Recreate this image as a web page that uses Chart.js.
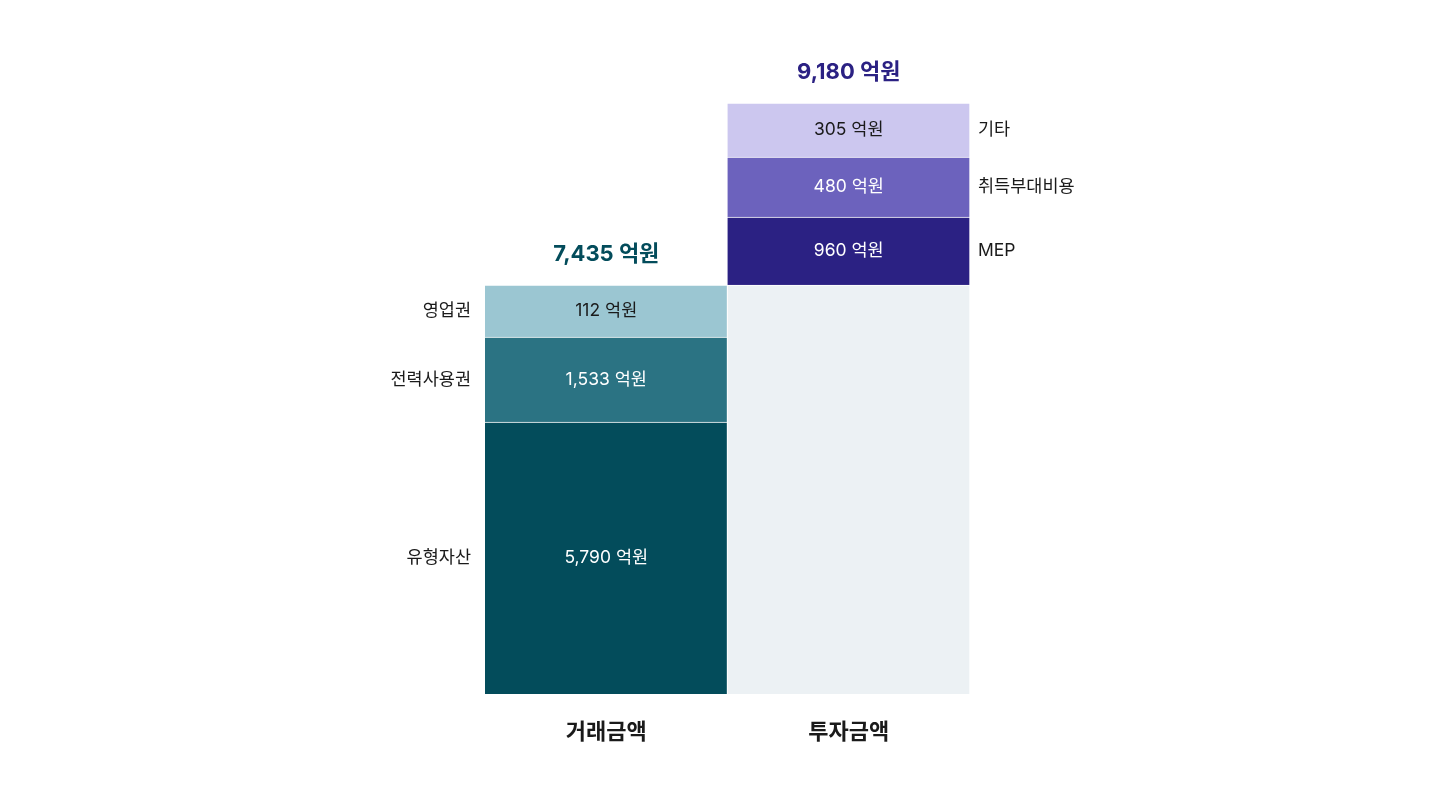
<!DOCTYPE html>
<html lang="ko">
  <head>
    <meta charset="UTF-8" />
    <title>거래금액 / 투자금액</title>
    <script src="https://cdn.jsdelivr.net/npm/chart.js@4/dist/chart.umd.min.js"></script>
    <style>
      html, body { margin: 0; padding: 0; background: #fff; }
      #wrap { width: 1440px; height: 810px; }
    </style>
  </head>
  <body>
    <div id="wrap"><canvas id="chart"></canvas></div>
    <script>
      // categories (x axis)
      var categories = ['거래금액', '투자금액'];
      var totals = ['7,435 억원', '9,180 억원'];

      // 거래금액 segments, bottom to top
      var dealNames = ['유형자산', '전력사용권', '영업권'];
      var dealAmounts = ['5,790 억원', '1,533 억원', '112 억원'];
      var dealHeights = [272, 85, 52];   // drawn height

      // 투자금액 segments, bottom to top (first one is the base equal to 거래금액)
      var investNames = ['', 'MEP', '취득부대비용', '기타'];
      var investAmounts = ['', '960 억원', '480 억원', '305 억원'];
      var investHeights = [409, 68, 60, 54];

      var dealColors = ['#034c5b', '#2b7383', '#9bc6d2'];
      var dealText = ['#fff', '#fff', '#1a1a1a'];
      var investColors = ['#ecf1f4', '#2b2183', '#6c62bd', '#ccc7ef'];
      var investText = ['#1a1a1a', '#fff', '#fff', '#1a1a1a'];
      var totalColors = ['#034c5b', '#2b2183'];

      var FONT = '"Inter", "Noto Sans CJK KR", "Noto Sans", sans-serif';

      var datasets = [];
      dealHeights.forEach(function (h, i) {
        datasets.push({
          label: dealNames[i], data: [h, null], backgroundColor: dealColors[i],
          amount: dealAmounts[i], textColor: dealText[i], side: 'left'
        });
      });
      investHeights.forEach(function (h, i) {
        datasets.push({
          label: investNames[i], data: [null, h], backgroundColor: investColors[i],
          amount: investAmounts[i], textColor: investText[i], side: 'right'
        });
      });
      datasets.forEach(function (d) {
        d.borderColor = '#fff';
        d.borderWidth = { top: 1, right: 1, bottom: 0, left: 0 };
        d.borderSkipped = false;
        d.categoryPercentage = 1;
        d.barPercentage = 1;
      });

      var labelsPlugin = {
        id: 'segmentLabels',
        afterDatasetsDraw: function (chart) {
          var ctx = chart.ctx;
          var x = chart.scales.x;
          var area = chart.chartArea;
          ctx.save();
          ctx.textBaseline = 'middle';

          chart.data.datasets.forEach(function (ds, i) {
            var meta = chart.getDatasetMeta(i);
            var idx = ds.side === 'left' ? 0 : 1;
            var bar = meta.data[idx];
            if (!bar) return;
            var cy = (bar.y + bar.base) / 2;
            var half = bar.width / 2;
            ctx.font = '400 17.5px ' + FONT;
            if (ds.amount) {
              ctx.fillStyle = ds.textColor;
              ctx.textAlign = 'center';
              ctx.fillText(ds.amount, bar.x, cy);
            }
            if (ds.label) {
              ctx.fillStyle = '#1a1a1a';
              if (ds.side === 'left') {
                ctx.textAlign = 'right';
                ctx.fillText(ds.label, bar.x - half - 14, cy);
              } else {
                ctx.textAlign = 'left';
                ctx.fillText(ds.label, bar.x + half + 8, cy);
              }
            }
          });

          // totals above each stack, category names below
          var y = chart.scales.y;
          var sums = [
            dealHeights.reduce(function (a, b) { return a + b; }, 0),
            investHeights.reduce(function (a, b) { return a + b; }, 0)
          ];
          ctx.font = '700 22px ' + FONT;
          ctx.textAlign = 'center';
          categories.forEach(function (c, j) {
            var cx = x.getPixelForValue(j);
            ctx.fillStyle = totalColors[j];
            ctx.fillText(totals[j], cx, y.getPixelForValue(sums[j]) - 31);
            ctx.fillStyle = '#1a1a1a';
            ctx.fillText(c, cx, area.bottom + 38);
          });
          ctx.restore();
        }
      };

      new Chart(document.getElementById('chart'), {
        type: 'bar',
        data: { labels: categories, datasets: datasets },
        options: {
          responsive: true,
          maintainAspectRatio: false,
          animation: false,
          layout: { padding: { left: 485, right: 470, top: 103, bottom: 116 } },
          plugins: { legend: { display: false }, tooltip: { enabled: false } },
          scales: {
            x: { stacked: true, display: false },
            y: { stacked: true, display: false, min: 0, max: 591 }
          }
        },
        plugins: [labelsPlugin]
      });
    </script>
  </body>
</html>
